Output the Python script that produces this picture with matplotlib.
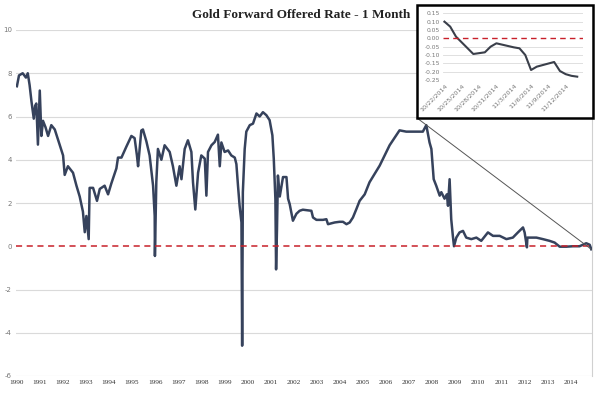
import numpy as np
import pandas as pd
import matplotlib
matplotlib.use("Agg")
import matplotlib.pyplot as plt
from matplotlib.patches import Rectangle, ConnectionPatch

# main series: decimal year / 1M gold forward offered rate (%)
years = [1990.01, 1990.10, 1990.26, 1990.40, 1990.48, 1990.56, 1990.64, 1990.74, 1990.80, 1990.85,
         1990.92, 1991.00, 1991.07, 1991.14, 1991.25, 1991.36, 1991.50, 1991.65, 1991.86, 1992.01,
         1992.08, 1992.22, 1992.44, 1992.59, 1992.73, 1992.87, 1992.95, 1993.02, 1993.12, 1993.16,
         1993.31, 1993.48, 1993.60, 1993.81, 1993.96, 1994.10, 1994.32, 1994.39, 1994.54, 1994.75,
         1994.97, 1995.11, 1995.21, 1995.26, 1995.40, 1995.47, 1995.62, 1995.76, 1995.91, 1995.98,
         1995.99, 1996.05, 1996.12, 1996.27, 1996.41, 1996.63, 1996.77, 1996.92, 1997.06, 1997.14,
         1997.28, 1997.42, 1997.57, 1997.64, 1997.74, 1997.86, 1998.00, 1998.15, 1998.22, 1998.29,
         1998.44, 1998.58, 1998.72, 1998.80, 1998.87, 1999.01, 1999.16, 1999.30, 1999.45, 1999.52,
         1999.59, 1999.66, 1999.74, 1999.77, 1999.80, 1999.88, 1999.95, 2000.10, 2000.24, 2000.39,
         2000.53, 2000.67, 2000.82, 2000.96, 2001.08, 2001.14, 2001.21, 2001.24, 2001.28, 2001.32,
         2001.40, 2001.54, 2001.69, 2001.76, 2001.83, 2001.97, 2002.12, 2002.26, 2002.40, 2002.77,
         2002.84, 2002.99, 2003.27, 2003.42, 2003.49, 2003.78, 2003.99, 2004.14, 2004.29, 2004.43,
         2004.57, 2004.72, 2004.86, 2005.08, 2005.29, 2005.73, 2006.16, 2006.59, 2006.88, 2007.60,
         2007.75, 2007.82, 2007.89, 2007.97, 2008.07, 2008.18, 2008.33, 2008.40, 2008.54, 2008.64,
         2008.69, 2008.76, 2008.83, 2008.90, 2008.95, 2009.05, 2009.19, 2009.34, 2009.48, 2009.70,
         2009.92, 2010.13, 2010.42, 2010.64, 2010.93, 2011.22, 2011.50, 2011.72, 2011.94, 2012.01,
         2012.11, 2012.13, 2012.23, 2012.52, 2012.80, 2013.09, 2013.31, 2013.53, 2013.82, 2014.10,
         2014.39, 2014.68, 2014.83, 2014.90]
rates = [7.4, 7.9, 8.0, 7.8, 8.0, 7.45, 6.7, 5.9, 6.5, 6.6,
         4.7, 7.2, 5.1, 5.8, 5.5, 5.1, 5.6, 5.4, 4.7, 4.2,
         3.3, 3.7, 3.4, 2.8, 2.3, 1.6, 0.65, 1.4, 0.33, 2.7,
         2.7, 2.1, 2.65, 2.8, 2.4, 2.9, 3.6, 4.1, 4.1, 4.6,
         5.1, 5.0, 4.2, 3.7, 5.35, 5.4, 4.85, 4.2, 2.8, 1.4,
         -0.45, 2.96, 4.5, 4.0, 4.67, 4.36, 3.7, 2.8, 3.7, 3.1,
         4.5, 4.9, 4.36, 2.96, 1.7, 3.4, 4.2, 4.05, 2.34, 4.36,
         4.67, 4.82, 5.16, 3.7, 4.8, 4.36, 4.43, 4.2, 4.1, 3.8,
         2.8, 1.87, 1.1, -4.6, 2.5, 4.5, 5.3, 5.6, 5.67, 6.14,
         6.0, 6.2, 6.06, 5.83, 5.13, 4.05, 2.19, -1.07, 0.8, 3.27,
         2.3, 3.2, 3.2, 2.2, 1.95, 1.18, 1.5, 1.64, 1.69, 1.64,
         1.33, 1.22, 1.22, 1.25, 1.02, 1.1, 1.13, 1.13, 1.02, 1.1,
         1.33, 1.72, 2.1, 2.4, 2.96, 3.73, 4.67, 5.36, 5.3, 5.3,
         5.6, 5.2, 4.8, 4.5, 3.1, 2.8, 2.34, 2.5, 2.2, 2.4,
         1.87, 3.1, 1.25, 0.48, 0.0, 0.4, 0.64, 0.71, 0.4, 0.33,
         0.4, 0.25, 0.64, 0.48, 0.48, 0.33, 0.4, 0.64, 0.87, 0.64,
         -0.05, 0.4, 0.4, 0.4, 0.33, 0.25, 0.17, -0.02, -0.02, 0.0,
         0.0, 0.14, 0.07, -0.14]

year_labels = [str(y) for y in range(1990, 2015)]
y_ticks = [-6, -4, -2, 0, 2, 4, 6, 8, 10]

# inset: last few weeks
inset_dates = ["2014-10-22", "2014-10-23", "2014-10-24", "2014-10-27", "2014-10-29", "2014-10-30",
               "2014-10-31", "2014-11-03", "2014-11-04", "2014-11-05", "2014-11-06", "2014-11-07",
               "2014-11-10", "2014-11-11", "2014-11-12", "2014-11-13", "2014-11-14"]
inset_rates = [0.10, 0.07, 0.01, -0.094, -0.084, -0.05,
               -0.03, -0.054, -0.06, -0.10, -0.19, -0.17,
               -0.142, -0.196, -0.215, -0.225, -0.23]
inset_tick_dates = ["2014-10-22", "2014-10-25", "2014-10-28", "2014-10-31",
                    "2014-11-03", "2014-11-06", "2014-11-09", "2014-11-12"]
inset_y_ticks = [-0.25, -0.20, -0.15, -0.10, -0.05, 0.00, 0.05, 0.10, 0.15]

line_col = "#36425c"
red = "#c8202a"
grid_col = "#dadada"

fig = plt.figure(figsize=(6, 3.93), dpi=100)
ax = fig.add_axes([16/600, 1-376/393, 576/600, 346/393])

ax.plot(years, rates, color=line_col, lw=1.8, solid_joinstyle="round", zorder=3)
ax.axhline(0, color=red, lw=1.1, ls=(0, (4, 3)), zorder=4)

ax.set_xlim(1989.97, 2014.93)
ax.set_ylim(-6, 10)
ax.set_yticks(y_ticks)
ax.set_yticklabels([str(t) for t in y_ticks], fontsize=5, color="#777777")
ax.set_xticks(range(1990, 2015))
ax.set_xticklabels(year_labels, fontsize=5.2, family="Liberation Serif", color="#333333")
ax.tick_params(length=0, pad=3)
for y in y_ticks:
    if y != 0:
        ax.axhline(y, color=grid_col, lw=0.8, zorder=1)
for s in ["top", "left", "bottom"]:
    ax.spines[s].set_visible(False)
ax.spines["right"].set_color("#d0d0d0")
ax.spines["right"].set_linewidth(0.8)

fig.text(0.502, 0.962, "Gold Forward Offered Rate - 1 Month", ha="center", va="center",
         fontsize=9.5, fontweight="bold", family="Liberation Serif", color="#222222")

# inset box
box_x0, box_y0 = 417/600, 1-118/393
box_w, box_h = 176/600, 113/393
fig.patches.append(Rectangle((box_x0, box_y0), box_w, box_h, transform=fig.transFigure,
                             facecolor="white", edgecolor="black", lw=1.8, zorder=5))

con = ConnectionPatch(xyA=(years[-1], rates[-1]), coordsA="data", axesA=ax,
                      xyB=(box_x0, box_y0), coordsB="figure fraction",
                      color="#555555", lw=0.7)
fig.add_artist(con)

iax = fig.add_axes([443/600, 1-80/393, 140/600, 66.7/393], zorder=6)
idates = pd.to_datetime(inset_dates)
iax.plot(idates, inset_rates, color="#3a3f4a", lw=1.5, zorder=3)
iax.axhline(0, color=red, lw=1.0, ls=(0, (4, 3)), zorder=4)
for y in inset_y_ticks:
    if y != 0:
        iax.axhline(y, color=grid_col, lw=0.6, zorder=1)
iax.set_ylim(-0.25, 0.15)
iax.set_xlim(pd.Timestamp("2014-10-21 18:00"), pd.Timestamp("2014-11-15"))
iax.set_yticks(inset_y_ticks)
iax.set_yticklabels([f"{t:.2f}" for t in inset_y_ticks], fontsize=4.3, color="#777777")
tick_ts = pd.to_datetime(inset_tick_dates)
iax.set_xticks(tick_ts)
iax.set_xticklabels([f"{d.month}/{d.day}/{d.year}" for d in tick_ts], fontsize=4.6,
                    color="#777777", rotation=45, ha="right", rotation_mode="anchor")
iax.tick_params(length=0, pad=2)
for s in iax.spines.values():
    s.set_visible(False)
iax.patch.set_alpha(0)

fig.savefig("out.png", dpi=100)
